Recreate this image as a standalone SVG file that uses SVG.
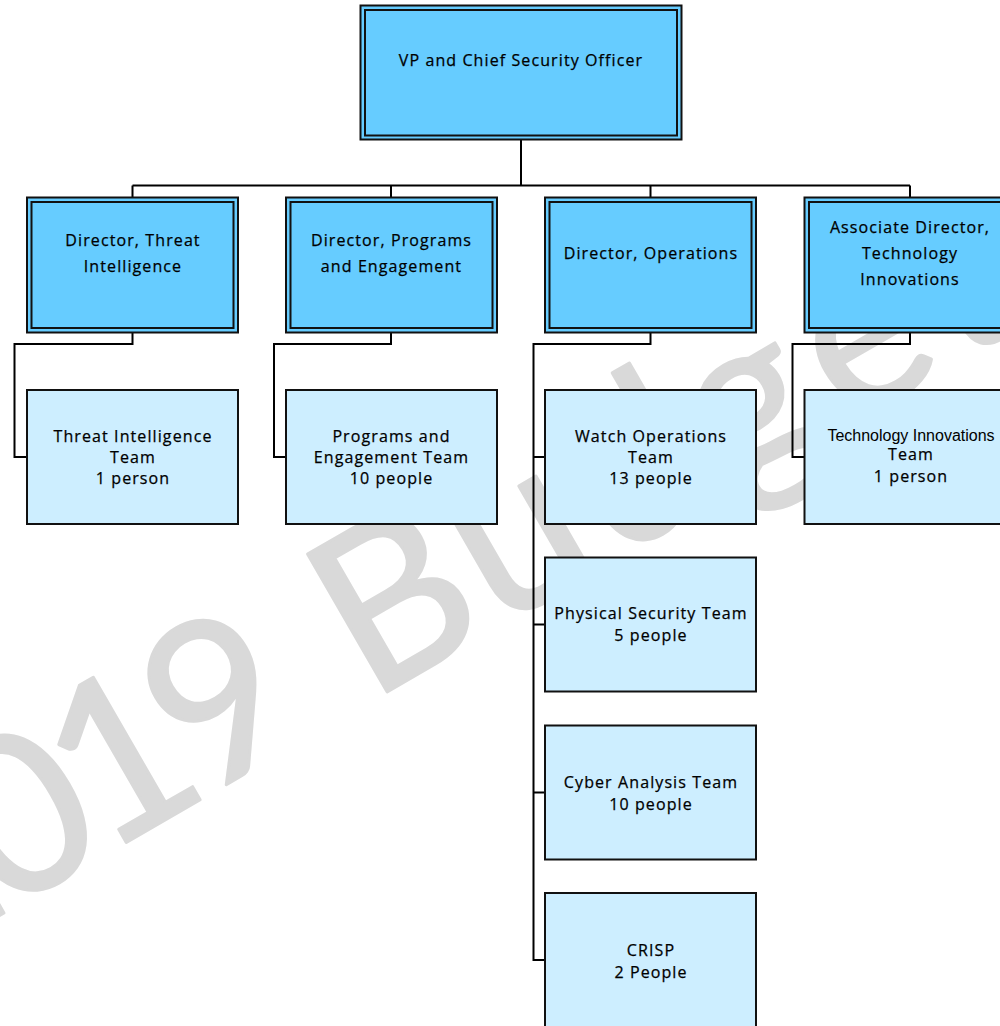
<svg xmlns="http://www.w3.org/2000/svg" width="1000" height="1026" viewBox="0 0 1000 1026">
<style>
.wm{font-family:Lato,"Open Sans","Liberation Sans",sans-serif;font-size:222px;fill:#d9d9d9;stroke:#d9d9d9;stroke-width:3;stroke-linejoin:round;text-anchor:middle;}
.dir rect{fill:#66ccff;stroke:#111;stroke-width:2;}
.team rect{fill:#cdeeff;stroke:#111;stroke-width:2;}
text.t{font-family:"Open Sans","Liberation Sans",sans-serif;font-size:16px;letter-spacing:1.1px;fill:#000;stroke:#000;stroke-width:0.25;text-anchor:middle;}
text.a{font-family:"Liberation Sans",Arial,sans-serif;font-size:16px;fill:#000;text-anchor:middle;}
#connectors path{fill:none;stroke:#000;stroke-width:2;}
</style>
<rect x="0" y="0" width="1000" height="1026" fill="#ffffff"/>
<g id="watermark" transform="translate(113 850) rotate(-30)">
<text class="wm" x="-178 -63 52 166 267 368 507 644 774 906 1015" y="0">2019 Budget</text>
</g>
<g id="connectors">
<path d="M521,140 V185.5 M132.5,185.5 H910 M132.5,185.5 V197 M391,185.5 V197 M650.5,185.5 V197 M910,185.5 V197"/>
<path d="M132.5,332 V344 H14.5 V457 H27"/>
<path d="M391,332 V344 H274 V457 H286"/>
<path d="M650.5,332 V344 H533.5 V960 H545 M533.5,457 H545 M533.5,624.5 H545 M533.5,792.5 H545"/>
<path d="M910,332 V344 H792.5 V457 H804.5"/>
</g>
<g id="n-vp" class="dir">
<rect x="360.5" y="5.5" width="321" height="134"/>
<rect x="365" y="10" width="312" height="125.5"/>
<text class="t" x="521" y="66">VP and Chief Security Officer</text>
</g>
<g id="n-dir-threat" class="dir">
<rect x="27" y="197.5" width="211" height="135"/>
<rect x="31.5" y="202" width="202" height="126"/>
<text class="t" x="133" y="246">Director, Threat</text>
<text class="t" x="133" y="272">Intelligence</text>
</g>
<g id="n-dir-programs" class="dir">
<rect x="286" y="197.5" width="211" height="135"/>
<rect x="290.5" y="202" width="202" height="126"/>
<text class="t" x="391.5" y="246">Director, Programs</text>
<text class="t" x="391.5" y="272">and Engagement</text>
</g>
<g id="n-dir-ops" class="dir">
<rect x="545" y="197.5" width="211" height="135"/>
<rect x="549.5" y="202" width="202" height="126"/>
<text class="t" x="651" y="259">Director, Operations</text>
</g>
<g id="n-dir-tech" class="dir">
<rect x="804.5" y="197.5" width="211" height="135"/>
<rect x="809" y="202" width="202" height="126"/>
<text class="t" x="910" y="233">Associate Director,</text>
<text class="t" x="910" y="259">Technology</text>
<text class="t" x="910" y="285">Innovations</text>
</g>
<g id="n-team-threat" class="team">
<rect x="27" y="390" width="211" height="134"/>
<text class="t" x="133" y="442">Threat Intelligence</text>
<text class="t" x="133" y="463">Team</text>
<text class="t" x="133" y="484">1 person</text>
</g>
<g id="n-team-programs" class="team">
<rect x="286" y="390" width="211" height="134"/>
<text class="t" x="391.5" y="442">Programs and</text>
<text class="t" x="391.5" y="463">Engagement Team</text>
<text class="t" x="391.5" y="484">10 people</text>
</g>
<g id="n-team-watch" class="team">
<rect x="545" y="390" width="211" height="134"/>
<text class="t" x="651" y="442">Watch Operations</text>
<text class="t" x="651" y="463">Team</text>
<text class="t" x="651" y="484">13 people</text>
</g>
<g id="n-team-physical" class="team">
<rect x="545" y="557.5" width="211" height="134"/>
<text class="t" x="651" y="619">Physical Security Team</text>
<text class="t" x="651" y="641">5 people</text>
</g>
<g id="n-team-cyber" class="team">
<rect x="545" y="725.5" width="211" height="134"/>
<text class="t" x="651" y="788">Cyber Analysis Team</text>
<text class="t" x="651" y="810">10 people</text>
</g>
<g id="n-team-crisp" class="team">
<rect x="545" y="893" width="211" height="140"/>
<text class="t" x="651" y="956">CRISP</text>
<text class="t" x="651" y="978">2 People</text>
</g>
<g id="n-team-tech" class="team">
<rect x="804.5" y="390" width="211" height="134"/>
<text class="a" x="911" y="441">Technology Innovations</text>
<text class="t" x="911" y="460">Team</text>
<text class="t" x="911" y="482">1 person</text>
</g>
</svg>
